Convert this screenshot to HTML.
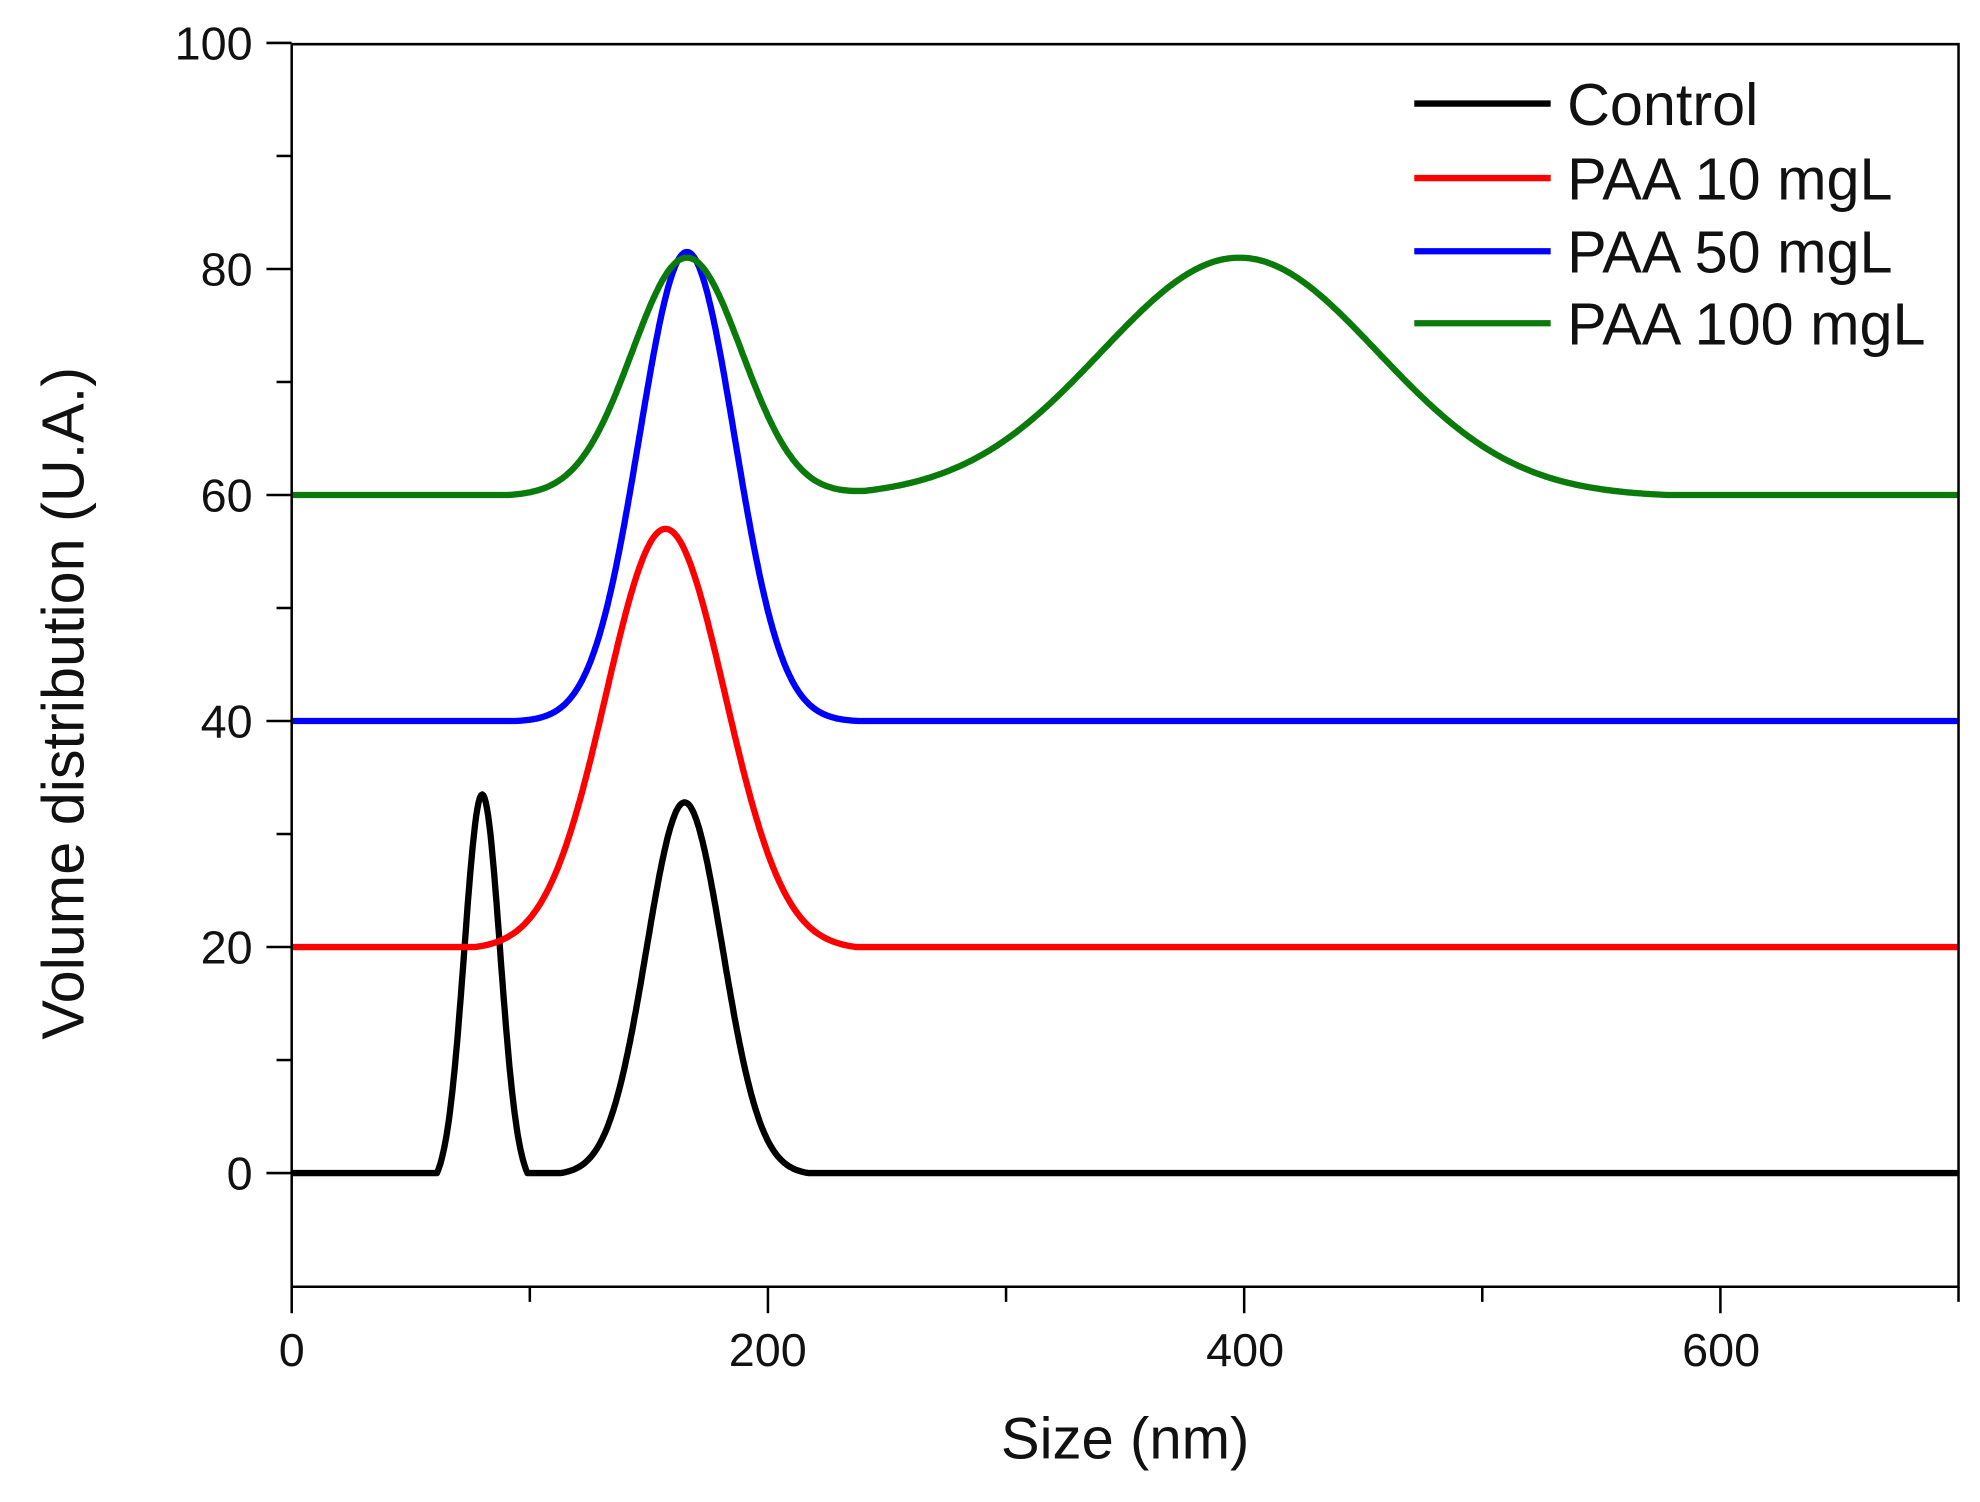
<!DOCTYPE html>
<html><head><meta charset="utf-8"><style>html,body{margin:0;padding:0;background:#fff}svg{display:block}</style></head>
<body>
<svg id="s" width="1980" height="1502" viewBox="0 0 1568 1189.5" preserveAspectRatio="none" xmlns="http://www.w3.org/2000/svg" font-family="Liberation Sans, Arial, sans-serif">
<rect width="1568" height="1190" fill="#fff"/>
<g id="curves" fill="none" stroke-width="5" stroke-linejoin="round"></g>
<g stroke="#000" stroke-width="2" fill="none">
<path d="M231,35 V1019 H1551 V35 H231"/>
<g id="ticks"></g>
</g>
<g font-size="37" fill="#111" text-anchor="end">
<text x="200" y="47">100</text>
<text x="200" y="226">80</text>
<text x="200" y="405">60</text>
<text x="200" y="584">40</text>
<text x="200" y="763">20</text>
<text x="200" y="942">0</text>
</g>
<g font-size="37" fill="#111" text-anchor="middle">
<text x="231" y="1082">0</text>
<text x="608" y="1082">200</text>
<text x="986" y="1082">400</text>
<text x="1363" y="1082">600</text>
</g>
<text x="891" y="1155" font-size="46" text-anchor="middle" fill="#111">Size (nm)</text>
<text transform="translate(66,557) rotate(-90)" font-size="47" text-anchor="middle" fill="#111">Volume distribution (U.A.)</text>
<g stroke-width="5">
<line x1="1120" y1="82" x2="1228" y2="82" stroke="#000"/>
<line x1="1120" y1="141" x2="1228" y2="141" stroke="#f00"/>
<line x1="1120" y1="199" x2="1228" y2="199" stroke="#00f"/>
<line x1="1120" y1="256" x2="1228" y2="256" stroke="#0a7a0a"/>
</g>
<g font-size="47" fill="#111">
<text x="1241" y="99">Control</text>
<text x="1241" y="158">PAA 10 mgL</text>
<text x="1241" y="216">PAA 50 mgL</text>
<text x="1241" y="273">PAA 100 mgL</text>
</g>
</svg>
<script>
var X=function(v){return 231+v*1.8857},Y=function(v){return 929-v*8.95};
var t="";
for(var i=0;i<=100;i+=10){var y=Y(i);t+='<line x1="'+(231-(i%20?12:20))+'" y1="'+y+'" x2="231" y2="'+y+'"/>';}
for(var i=0;i<=700;i+=100){var x=X(i);t+='<line x1="'+x+'" y1="1019" x2="'+x+'" y2="'+(1019+(i%200?12:21))+'"/>';}
document.getElementById("ticks").innerHTML=t;
function g(x,m,s,h,w){var d=(x-m)/w;if(Math.abs(d)>=1)return 0;var c=Math.exp(-w*w/(2*s*s));return h*Math.max(0,(Math.exp(-(x-m)*(x-m)/(2*s*s))-c)/(1-c));}
var series=[
["#000",function(x){return g(x,80,7.5,33.5,19)+g(x,165,16,32.8,52);}],
["#f00",function(x){return 20+g(x,157,25,37,80);}],
["#00f",function(x){return 40+g(x,166,20,41.5,72);}],
["#0a7a0a",function(x){return 60+g(x,166,23,21,75)+g(x,398,58,21,180);}]];
var h="";
series.forEach(function(s){var d="";for(var x=0;x<=700;x+=0.5){d+=(x?"L":"M")+X(x).toFixed(1)+","+Y(s[1](x)).toFixed(1);}h+='<path d="'+d+'" stroke="'+s[0]+'"/>';});
document.getElementById("curves").innerHTML=h;
</script>
</body></html>
